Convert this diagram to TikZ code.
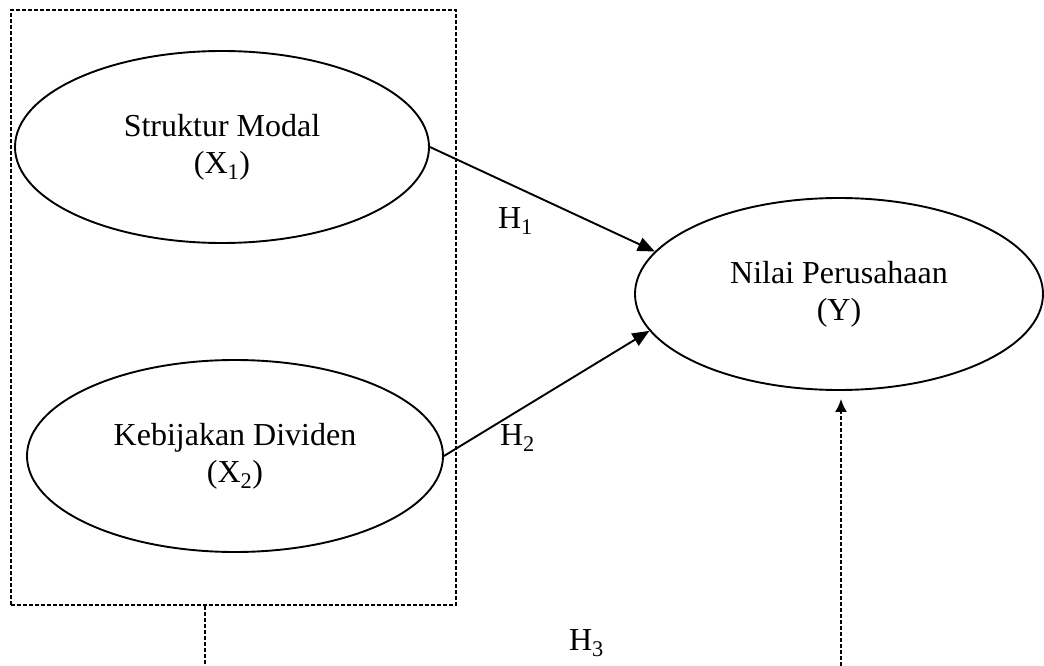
\documentclass[tikz,border=0pt]{standalone}
\usepackage{fontspec}
\setmainfont{Liberation Serif}
\usepackage{tikz}
\usetikzlibrary{arrows.meta,shapes.geometric}

\begin{document}
\begin{tikzpicture}[x=1pt,y=-1pt,
  varbox/.style={ellipse,draw=black,line width=1.9pt,inner sep=0pt,minimum width=414pt,minimum height=192pt,align=center,font=\fontsize{32}{37}\selectfont},
  hlabel/.style={inner sep=0pt,outer sep=0pt,anchor=base west,font=\fontsize{32}{37}\selectfont},
  groupbox/.style={draw=black,line width=1.6pt,dash pattern=on 4pt off 2pt,inner sep=0pt},
  hyparrow/.style={draw=black,line width=1.9pt,-{Triangle[length=17pt,width=14pt]}},
  dasharrow/.style={draw=black,line width=1.9pt,dash pattern=on 4pt off 2pt,-{Latex[length=13pt,width=12pt]}}]
\clip (0,0) rectangle (1044,666);
\path[use as bounding box] (0,0) rectangle (1044,666);
\path[fill=white,draw=none] (0,0) rectangle (1044,666);
% group of independent variables
\node[groupbox,minimum width=445pt,minimum height=595pt] (grp) at (233.5,307.5) {};
\node[varbox] (x1) at (222,147) {Struktur Modal\\(X\textsubscript{1})};
\node[varbox,minimum width=416pt] (x2) at (235,456) {Kebijakan Dividen\\(X\textsubscript{2})};
\node[varbox,minimum width=408pt] (y) at (839,294) {Nilai Perusahaan\\(Y)};
% hypotheses
\draw[hyparrow] (x1.east) -- (y.167);
\draw[hyparrow] (x2.east) -- (y.191);
\coordinate (h3a) at (205,690);
\coordinate (h3b) at (841,690);
\draw[dasharrow,shorten >=8pt] (grp.south -| h3a) -- (h3a) -- (h3b) -- (y.south -| h3b);
\node[hlabel] (h1) at (498,228) {H\textsubscript{1}};
\node[hlabel] (h2) at (500,445) {H\textsubscript{2}};
\node[hlabel] (h3) at (569,650) {H\textsubscript{3}};
\end{tikzpicture}
\end{document}
